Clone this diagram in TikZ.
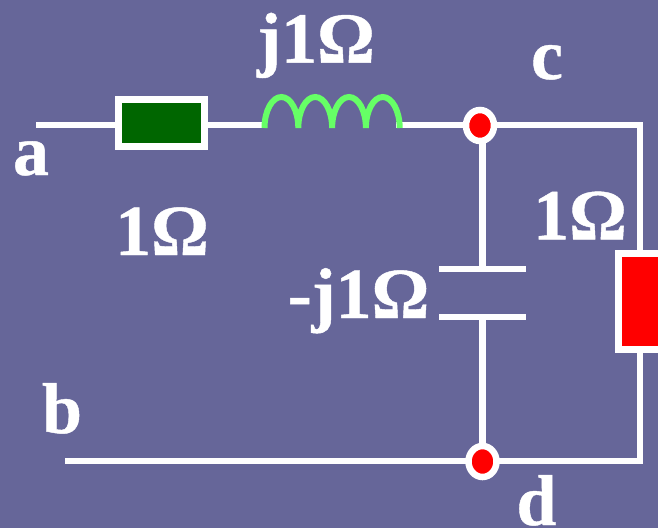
\documentclass[tikz,border=0pt]{standalone}
\usepackage{fontspec}
\setmainfont{Liberation Serif}[BoldFeatures={FakeBold=0.6}]
\usetikzlibrary{shapes.geometric}
\definecolor{bgc}{HTML}{666699}
\definecolor{dgreen}{HTML}{006600}
\definecolor{lgreen}{HTML}{66FF66}
\tikzset{
 wire/.style={draw=white,line width=6.3pt},
 resbox/.style={draw=white,line width=7pt,rectangle,inner sep=0pt,outer sep=0pt},
 junction/.style={ellipse,draw=white,fill=red,line width=6.5pt,minimum width=28pt,minimum height=31pt,inner sep=0pt,outer sep=0pt},
 lab/.style={text=white,font=\bfseries\fontsize{72pt}{72pt}\selectfont,inner sep=0pt,anchor=base},
 coil/.style={draw=lgreen,line width=6pt},
 plate/.style={draw=white,line width=6.3pt}
}
\begin{document}
\begin{tikzpicture}[x=1pt,y=-1pt]
\path[fill=bgc] (0,0) rectangle (658,528);
\clip (0,0) rectangle (658,528);
\useasboundingbox (0,0) rectangle (658,528);
% free ends and corners
\coordinate (a) at (36,125);
\coordinate (b) at (65,461);
\coordinate (tr) at (640,125);
\coordinate (br) at (640,461);
\coordinate (l1) at (267,125);
\coordinate (l2) at (396,125);
\coordinate (k1) at (264.5,128);
\coordinate (p1l) at (439,269);
\coordinate (p1r) at (526,269);
\coordinate (p2l) at (439,317);
\coordinate (p2r) at (526,317);
\coordinate (p1m) at (482.5,269);
\coordinate (p2m) at (482.5,317);
\coordinate (cj) at (482.5,125);
\coordinate (dj) at (482.5,461);
% components (placed first so connectors can name them)
\node[resbox,fill=dgreen,minimum width=86.3pt,minimum height=47.5pt] (r1) at (161.8,122.8) {};
\node[resbox,fill=red,minimum width=81.3pt,minimum height=96.3pt] (r2) at (659.35,301.2) {};
% wires
\draw[wire] (a) -- (r1.west |- a);
\draw[wire] (r1.east |- l1) -- (l1);
\draw[wire] (l2) -- (cj);
\draw[wire,line join=miter] (cj) -- (tr) -- (tr |- r2.north);
\draw[wire,line join=miter] (br |- r2.south) -- (br) -- (b);
\draw[wire] (cj) -- (p1m);
\draw[wire] (p2m) -- (dj);
\draw[plate] (p1l) -- (p1r);
\draw[plate] (p2l) -- (p2r);
% inductor
\draw[coil] (k1) arc[start angle=180,end angle=0,x radius=16.9pt,y radius=31pt]
  arc[start angle=180,end angle=0,x radius=16.9pt,y radius=31pt]
  arc[start angle=180,end angle=0,x radius=16.9pt,y radius=31pt]
  arc[start angle=180,end angle=0,x radius=16.9pt,y radius=31pt];
% junction dots
\node[junction] (c) at (480,125.5) {};
\node[junction] (d) at (482.5,461.5) {};
% labels
\node[lab] (lj) at (316,62.7) {j1Ω};
\node[lab] (lc) at (547,79) {c};
\node[lab] (la) at (31,175) {a};
\node[lab] (lr1) at (162,255) {1Ω};
\node[lab] (lr2) at (580,239.3) {1Ω};
\node[lab] (lcap) at (358.5,318) {-j1Ω};
\node[lab] (lb) at (62,433) {b};
\node[lab] (ld) at (536.5,525) {d};
\end{tikzpicture}
\end{document}
